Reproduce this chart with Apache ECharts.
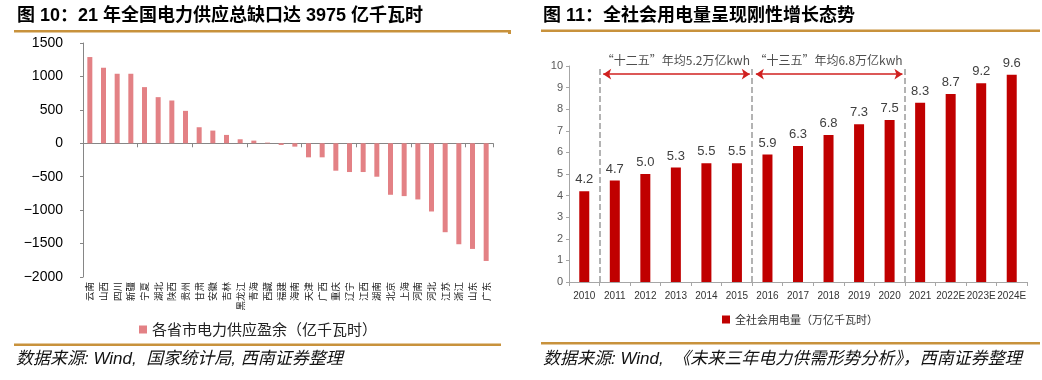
<!DOCTYPE html>
<html>
<head>
<meta charset="utf-8">
<script src="https://cdn.jsdelivr.net/npm/echarts@6/dist/echarts.min.js"></script>
<style>
html,body{margin:0;padding:0;background:#fff;}
#c{width:1042px;height:380px;}
</style>
</head>
<body>
<div id="c"></div>
<script>
// ---- Data: left chart ----
const provinces = ['云南','山西','四川','新疆','宁夏','湖北','陕西','贵州','甘肃','安徽','吉林','黑龙江','青海','西藏','福建','海南','天津','广西','重庆','辽宁','江西','湖南','北京','上海','河南','河北','江苏','浙江','山东','广东'];
const surplus = [1290,1130,1040,1040,840,690,640,485,240,190,125,60,40,10,-25,-50,-210,-210,-410,-430,-430,-500,-770,-790,-840,-1020,-1330,-1510,-1580,-1760];
const surplusName = '各省市电力供应盈余（亿千瓦时）';

// ---- Data: right chart ----
const years = ['2010','2011','2012','2013','2014','2015','2016','2017','2018','2019','2020','2021','2022E','2023E','2024E'];
const consumption = [4.2,4.7,5.0,5.3,5.5,5.5,5.9,6.3,6.8,7.3,7.5,8.3,8.7,9.2,9.6];
const consumptionName = '全社会用电量（万亿千瓦时）';
const periodLabels = ['“十二五”年均5.2万亿kwh','“十三五”年均6.8万亿kwh'];
const periodStart = ['2011','2016'];
const periodEnd = ['2015','2020'];
const dividerYears = ['2011','2016','2021'];

const title1 = '图 10：21 年全国电力供应总缺口达 3975 亿千瓦时';
const title2 = '图 11：全社会用电量呈现刚性增长态势';
const source1 = '数据来源: Wind,  国家统计局, 西南证券整理';
const source2 = '数据来源: Wind,  《未来三年电力供需形势分析》，西南证券整理';

// ---- Build ----
const FONT = '"Liberation Sans", Arial, "Noto Sans CJK SC", sans-serif';
const CJK = '"Noto Sans CJK SC", "Liberation Sans", sans-serif';
const GOLD = '#C8923C';

const dividerMarks = dividerYears.map(y => {
  const i = years.indexOf(y);
  return [{coord:[i,0], lineStyle:{color:'#9A9A9A', width:1.5, type:'dashed'}},{coord:[i,10]}];
});
const arrowMarks = periodStart.map((s,k) => {
  const a = years.indexOf(s), b = years.indexOf(periodEnd[k]) + 1;
  return [{coord:[a+0.12,9.62], symbol:'arrow', lineStyle:{color:'#D0201F',width:1.5,type:'solid'}},
          {coord:[b-0.08,9.62], symbol:'arrow'}];
});
const periodTextData = periodStart.map((s,k) => {
  const a = years.indexOf(s), b = years.indexOf(periodEnd[k]) + 1;
  return {name: periodLabels[k], value:[(a+b)/2, 10.28]};
});

const chart = echarts.init(document.getElementById('c'), null, {renderer:'canvas'});
chart.setOption({
  animation:false,
  backgroundColor:'#fff',
  textStyle:{fontFamily:FONT},
  grid:[
    {left:83, right:549, top:43, bottom:103},
    {left:569, right:15, top:66, bottom:98}
  ],
  legend:[
    {data:[surplusName], left:139, top:322, padding:0, icon:'rect', itemWidth:8, itemHeight:8,
     textStyle:{fontSize:15, color:'#222', fontFamily:CJK}},
    {data:[consumptionName], left:722, top:314, padding:0, icon:'rect', itemWidth:8, itemHeight:8,
     textStyle:{fontSize:11, color:'#333', fontFamily:CJK}}
  ],
  xAxis:[
    {gridIndex:0, type:'category', data:provinces,
     axisLine:{onZero:true, lineStyle:{color:'#868686', width:1}},
     axisTick:{show:true, length:4, lineStyle:{color:'#868686'}},
     axisLabel:{show:false}},
    {gridIndex:0, type:'category', data:provinces, position:'bottom',
     axisLine:{show:false, onZero:false}, axisTick:{show:false},
     axisLabel:{show:true, interval:0, rotate:90, fontSize:9.5, color:'#222', margin:5, fontFamily:CJK}},
    {gridIndex:1, type:'category', data:years,
     axisLine:{lineStyle:{color:'#A6A6A6'}},
     axisTick:{show:true, length:4, lineStyle:{color:'#A6A6A6'}},
     axisLabel:{interval:0, fontSize:10, color:'#333', margin:9}},
    {gridIndex:1, type:'value', min:0, max:years.length, show:false}
  ],
  yAxis:[
    {gridIndex:0, type:'value', min:-2000, max:1500, interval:500,
     axisLine:{show:true, lineStyle:{color:'#868686'}},
     axisTick:{show:true, length:3, lineStyle:{color:'#868686'}},
     splitLine:{show:false},
     axisLabel:{fontSize:14, color:'#000', margin:20,
       formatter: v => String(v).replace('-', '\u2212')}},
    {gridIndex:1, type:'value', min:0, max:10, interval:1,
     axisLine:{show:true, lineStyle:{color:'#A6A6A6'}},
     axisTick:{show:true, length:3, lineStyle:{color:'#A6A6A6'}},
     splitLine:{show:false},
     axisLabel:{fontSize:11, color:'#595959', margin:6}}
  ],
  series:[
    {name:surplusName, type:'bar', xAxisIndex:0, yAxisIndex:0, data:surplus, barWidth:5,
     itemStyle:{color:'#E38185'}},
    {name:consumptionName, type:'bar', xAxisIndex:2, yAxisIndex:1, data:consumption, barWidth:10,
     itemStyle:{color:'#C00000'},
     label:{show:true, position:'top', distance:5, fontSize:13, color:'#404040',
       formatter: p => p.value.toFixed(1)}},
    {type:'scatter', xAxisIndex:3, yAxisIndex:1, data:periodTextData, symbolSize:0, clip:false,
     silent:true,
     label:{show:true, position:'inside', formatter:'{b}', fontSize:12, color:'#222', fontFamily:CJK},
     markLine:{silent:true, symbol:['none','none'], symbolSize:8,
       label:{show:false},
       lineStyle:{color:'#9A9A9A', width:1.5, type:'dashed'},
       data: dividerMarks.concat(arrowMarks)}}
  ],
  graphic:[
    {type:'text', x:17, y:16, style:{text:title1, fontSize:18, fontWeight:'bold', fontFamily:FONT, fill:'#000', verticalAlign:'middle'}},
    {type:'text', x:543, y:16, style:{text:title2, fontSize:18, fontWeight:'bold', fontFamily:FONT, fill:'#000', verticalAlign:'middle'}},
    {type:'rect', shape:{x:14, y:30, width:497, height:2.5}, style:{fill:GOLD}},
    {type:'rect', shape:{x:508, y:30, width:3, height:4}, style:{fill:GOLD}},
    {type:'rect', shape:{x:541, y:29.5, width:499, height:2.5}, style:{fill:GOLD}},
    {type:'rect', shape:{x:14, y:343.5, width:487, height:2.5}, style:{fill:GOLD}},
    {type:'rect', shape:{x:541, y:342, width:499, height:2.5}, style:{fill:GOLD}},
    {type:'text', x:16, y:359, style:{text:source1, fontSize:17, fontStyle:'italic', fontFamily:FONT, fill:'#111', verticalAlign:'middle'}},
    {type:'text', x:543, y:359, style:{text:source2, fontSize:17, fontStyle:'italic', fontFamily:FONT, fill:'#111', verticalAlign:'middle'}}
  ]
});
</script>
</body>
</html>
